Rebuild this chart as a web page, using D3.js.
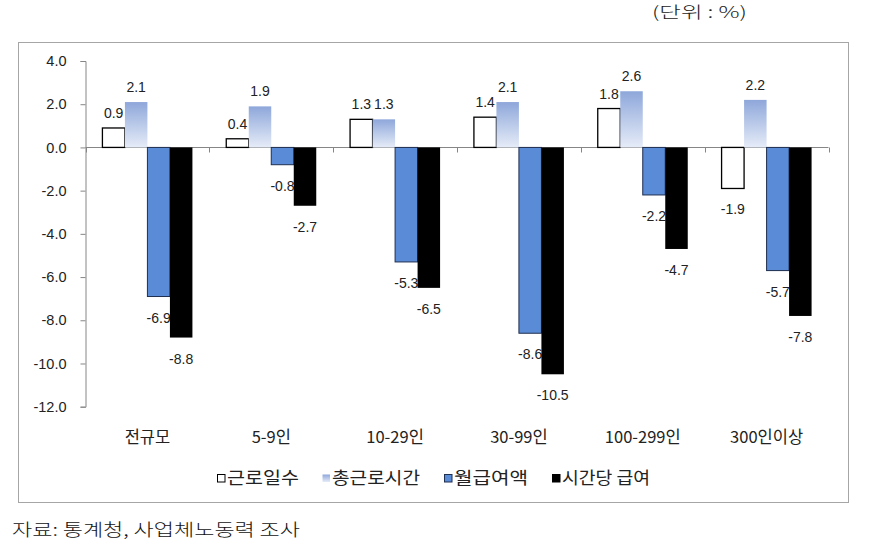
<!DOCTYPE html>
<html>
<head>
<meta charset="utf-8">
<script src="https://cdn.jsdelivr.net/npm/d3@7/dist/d3.min.js"></script>
<style>
  html, body { margin: 0; padding: 0; background: #fff; }
  svg { display: block; }
</style>
</head>
<body>
<svg id="chart" width="874" height="551"></svg>
<script>
// ---- data ----
const categories = ["전규모", "5-9인", "10-29인", "30-99인", "100-299인", "300인이상"];
const seriesNames = ["근로일수", "총근로시간", "월급여액", "시간당 급여"];
const workDays   = [0.9, 0.4, 1.3, 1.4, 1.8, -1.9];
const workHours  = [2.1, 1.9, 1.3, 2.1, 2.6, 2.2];
const monthlyPay = [-6.9, -0.8, -5.3, -8.6, -2.2, -5.7];
const hourlyPay  = [-8.8, -2.7, -6.5, -10.5, -4.7, -7.8];
const yTicks = [4, 2, 0, -2, -4, -6, -8, -10, -12];
const unitText = "(단위 : %)";
const sourceText = "자료: 통계청, 사업체노동력 조사";

const seriesValues = [workDays, workHours, monthlyPay, hourlyPay];

// ---- layout ----
const svg = d3.select("#chart");
const KR = "'Noto Sans CJK KR', 'Noto Sans', sans-serif";
const NUM = "'Liberation Sans', Arial, sans-serif";

const defs = svg.append("defs");
const grad = defs.append("linearGradient").attr("id", "gHours")
  .attr("x1", 0).attr("y1", 0).attr("x2", 0).attr("y2", 1);
grad.append("stop").attr("offset", "0%").attr("stop-color", "#8EA7DA");
grad.append("stop").attr("offset", "100%").attr("stop-color", "#E6ECF8");

const styles = [
  { fill: "#ffffff", stroke: "#000000", sw: 1.3 },
  { fill: "url(#gHours)", stroke: "none", sw: 0 },
  { fill: "#5A8BD6", stroke: "#1F2F50", sw: 1 },
  { fill: "#000000", stroke: "none", sw: 0 }
];

// outer frame
svg.append("rect").attr("x", 18.5).attr("y", 42.5).attr("width", 830).attr("height", 460)
  .attr("fill", "none").attr("stroke", "#a6a6a6").attr("stroke-width", 1);

// unit text
svg.append("text").attr("x", 652).attr("y", 18).text(unitText)
  .attr("font-family", KR).attr("font-size", 16).attr("font-weight", 300).attr("fill", "#222")
  .attr("textLength", 95).attr("lengthAdjust", "spacingAndGlyphs");

// scales
const y = d3.scaleLinear().domain([-12, 4]).range([406.7, 61]);
const x0 = d3.scaleBand().domain(categories).range([85.5, 828.5]).padding(0);
const bw = x0.bandwidth();
const x1 = d3.scaleBand().domain(seriesNames).range([bw / 2 - 45, bw / 2 + 45]).padding(0);

// y axis
const yAxis = d3.axisLeft(y).tickValues(yTicks).tickSize(5).tickPadding(14)
  .tickFormat(d => d.toFixed(1));
const gy = svg.append("g").attr("transform", "translate(85.5,0)").call(yAxis);
gy.select(".domain").attr("stroke", "#868686");
gy.selectAll(".tick line").attr("stroke", "#868686");
gy.selectAll(".tick text").attr("font-family", NUM).attr("font-size", 14.5).attr("fill", "#222");

// x axis line at zero with boundary ticks
const y0 = Math.round(y(0)) + 0.5;
svg.append("line").attr("x1", 85.5).attr("x2", 828.5).attr("y1", y0).attr("y2", y0)
  .attr("stroke", "#868686");
const bounds = categories.map(c => x0(c)).concat([x0(categories[categories.length - 1]) + bw]);
svg.selectAll(".xtick").data(bounds).enter().append("line")
  .attr("x1", d => Math.round(d) + 0.5).attr("x2", d => Math.round(d) + 0.5)
  .attr("y1", y0).attr("y2", y0 + 5).attr("stroke", "#868686");

// bars & labels, drawn series by series
seriesNames.forEach((s, si) => {
  const st = styles[si];
  const data = categories.map((c, i) => ({ c, v: seriesValues[si][i] }));
  const g = svg.append("g");
  g.selectAll("rect").data(data).enter().append("rect")
    .attr("x", d => x0(d.c) + x1(s))
    .attr("y", d => Math.min(y(d.v), y(0)))
    .attr("width", x1.bandwidth())
    .attr("height", d => Math.abs(y(d.v) - y(0)))
    .attr("fill", st.fill)
    .attr("stroke", st.stroke)
    .attr("stroke-width", st.sw);
  g.selectAll("text").data(data).enter().append("text")
    .attr("x", d => x0(d.c) + x1(s) + x1.bandwidth() / 2)
    .attr("y", d => d.v >= 0 ? y(d.v) - 10 : y(d.v) + 26)
    .attr("text-anchor", "middle")
    .attr("font-family", NUM).attr("font-size", 14).attr("fill", "#222")
    .text(d => d.v.toFixed(1));
});

// category labels
svg.selectAll(".cat").data(categories).enter().append("text")
  .attr("x", d => x0(d) + bw / 2)
  .attr("y", 443)
  .attr("text-anchor", "middle")
  .attr("font-family", KR).attr("font-size", 16.5).attr("font-weight", 400).attr("fill", "#222")
  .text(d => d);

// legend
const legendX = [217, 322, 444, 552];
const legendW = [72, 88, 74, 88];
const lg = svg.append("g");
seriesNames.forEach((s, si) => {
  const st = styles[si];
  const lx = legendX[si];
  lg.append("rect").attr("x", lx + 0.5).attr("y", 474.5).attr("width", 7.5).attr("height", 7.5)
    .attr("fill", st.fill)
    .attr("stroke", si === 1 ? "none" : (si === 3 ? "#000" : st.stroke))
    .attr("stroke-width", 1);
  lg.append("text").attr("x", lx + 10).attr("y", 484)
    .attr("font-family", KR).attr("font-size", 17).attr("font-weight", 400).attr("fill", "#222")
    .attr("textLength", legendW[si]).attr("lengthAdjust", "spacingAndGlyphs")
    .text(s);
});

// source text
svg.append("text").attr("x", 12).attr("y", 536).text(sourceText)
  .attr("font-family", KR).attr("font-size", 17).attr("font-weight", 300).attr("fill", "#111")
  .attr("textLength", 288).attr("lengthAdjust", "spacingAndGlyphs");
</script>
</body>
</html>
